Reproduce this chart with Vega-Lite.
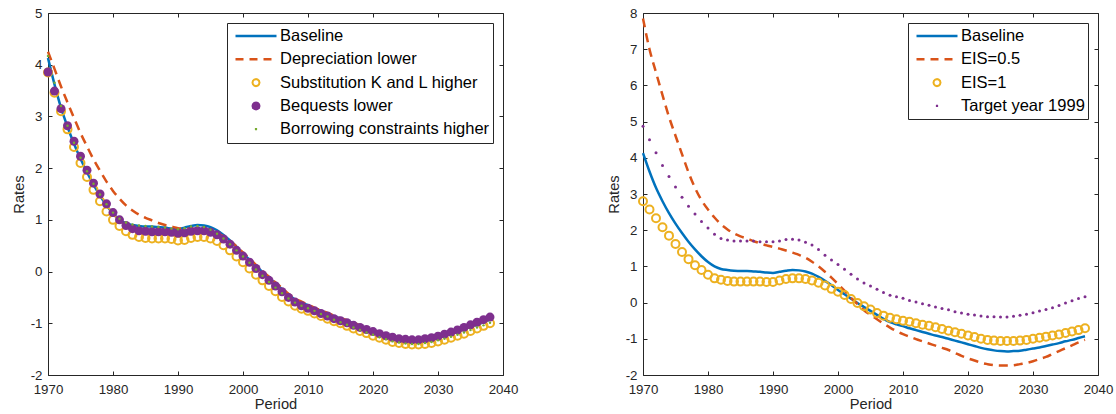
{
"$schema": "https://vega.github.io/schema/vega-lite/v6.json",
"background": "white",
"padding": {"left": 11, "top": 6, "right": 5, "bottom": 0},
"spacing": 88,
"config": {
  "font": "Liberation Sans",
  "view": {"stroke": null},
  "axis": {"domainColor": "#262626", "tickColor": "#262626", "labelColor": "#262626", "titleColor": "#262626", "labelFont": "Liberation Sans", "titleFont": "Liberation Sans", "labelFontSize": 13.3, "titleFontSize": 14.7, "titleFontWeight": "normal", "grid": false, "tickSize": -4, "domainWidth": 1, "tickWidth": 1, "labelFlush": false, "labelOverlap": false},
  "legend": {"title": null, "orient": "top-right", "offset": 10, "padding": 3, "strokeColor": "#262626", "fillColor": "#ffffff", "labelFont": "Liberation Sans", "labelFontSize": 16.5, "labelColor": "#000000", "labelLimit": 400, "symbolSize": 100, "clipHeight": 20, "rowPadding": 3.3, "labelOffset": 15.75, "symbolOffset": 17.75, "symbolOpacity": 1}
},
"resolve": {"scale": {"color": "independent"}, "legend": {"color": "independent"}},
"datasets": {
"base": [{"year":1970,"rate":4.13},{"year":1971,"rate":3.62},{"year":1972,"rate":3.17},{"year":1973,"rate":2.80},{"year":1974,"rate":2.47},{"year":1975,"rate":2.18},{"year":1976,"rate":1.92},{"year":1977,"rate":1.68},{"year":1978,"rate":1.47},{"year":1979,"rate":1.28},{"year":1980,"rate":1.12},{"year":1981,"rate":1.00},{"year":1982,"rate":0.93},{"year":1983,"rate":0.90},{"year":1984,"rate":0.88},{"year":1985,"rate":0.87},{"year":1986,"rate":0.87},{"year":1987,"rate":0.86},{"year":1988,"rate":0.85},{"year":1989,"rate":0.83},{"year":1990,"rate":0.82},{"year":1991,"rate":0.85},{"year":1992,"rate":0.88},{"year":1993,"rate":0.90},{"year":1994,"rate":0.89},{"year":1995,"rate":0.86},{"year":1996,"rate":0.80},{"year":1997,"rate":0.71},{"year":1998,"rate":0.60},{"year":1999,"rate":0.48},{"year":2000,"rate":0.35},{"year":2001,"rate":0.23},{"year":2002,"rate":0.11},{"year":2003,"rate":-0.01},{"year":2004,"rate":-0.12},{"year":2005,"rate":-0.23},{"year":2006,"rate":-0.34},{"year":2007,"rate":-0.45},{"year":2008,"rate":-0.54},{"year":2009,"rate":-0.60},{"year":2010,"rate":-0.65},{"year":2011,"rate":-0.71},{"year":2012,"rate":-0.76},{"year":2013,"rate":-0.81},{"year":2014,"rate":-0.86},{"year":2015,"rate":-0.91},{"year":2016,"rate":-0.95},{"year":2017,"rate":-1.00},{"year":2018,"rate":-1.05},{"year":2019,"rate":-1.10},{"year":2020,"rate":-1.15},{"year":2021,"rate":-1.20},{"year":2022,"rate":-1.25},{"year":2023,"rate":-1.29},{"year":2024,"rate":-1.32},{"year":2025,"rate":-1.34},{"year":2026,"rate":-1.35},{"year":2027,"rate":-1.34},{"year":2028,"rate":-1.33},{"year":2029,"rate":-1.30},{"year":2030,"rate":-1.27},{"year":2031,"rate":-1.24},{"year":2032,"rate":-1.20},{"year":2033,"rate":-1.16},{"year":2034,"rate":-1.12},{"year":2035,"rate":-1.07},{"year":2036,"rate":-1.03},{"year":2037,"rate":-0.98},{"year":2038,"rate":-0.93}],
"dep": [{"year":1970,"rate":4.25},{"year":1971,"rate":3.92},{"year":1972,"rate":3.58},{"year":1973,"rate":3.27},{"year":1974,"rate":2.97},{"year":1975,"rate":2.68},{"year":1976,"rate":2.42},{"year":1977,"rate":2.17},{"year":1978,"rate":1.95},{"year":1979,"rate":1.74},{"year":1980,"rate":1.56},{"year":1981,"rate":1.41},{"year":1982,"rate":1.28},{"year":1983,"rate":1.18},{"year":1984,"rate":1.10},{"year":1985,"rate":1.04},{"year":1986,"rate":0.99},{"year":1987,"rate":0.94},{"year":1988,"rate":0.90},{"year":1989,"rate":0.87},{"year":1990,"rate":0.84},{"year":1991,"rate":0.83},{"year":1992,"rate":0.83},{"year":1993,"rate":0.83},{"year":1994,"rate":0.82},{"year":1995,"rate":0.80},{"year":1996,"rate":0.75},{"year":1997,"rate":0.68},{"year":1998,"rate":0.59},{"year":1999,"rate":0.49},{"year":2000,"rate":0.37},{"year":2001,"rate":0.25},{"year":2002,"rate":0.13},{"year":2003,"rate":0.01},{"year":2004,"rate":-0.10},{"year":2005,"rate":-0.21},{"year":2006,"rate":-0.32},{"year":2007,"rate":-0.43},{"year":2008,"rate":-0.52},{"year":2009,"rate":-0.58},{"year":2010,"rate":-0.64},{"year":2011,"rate":-0.70},{"year":2012,"rate":-0.75},{"year":2013,"rate":-0.80},{"year":2014,"rate":-0.85},{"year":2015,"rate":-0.90},{"year":2016,"rate":-0.94},{"year":2017,"rate":-0.99},{"year":2018,"rate":-1.04},{"year":2019,"rate":-1.09},{"year":2020,"rate":-1.14},{"year":2021,"rate":-1.19},{"year":2022,"rate":-1.24},{"year":2023,"rate":-1.28},{"year":2024,"rate":-1.31},{"year":2025,"rate":-1.33},{"year":2026,"rate":-1.34},{"year":2027,"rate":-1.33},{"year":2028,"rate":-1.32},{"year":2029,"rate":-1.29},{"year":2030,"rate":-1.26},{"year":2031,"rate":-1.23},{"year":2032,"rate":-1.19},{"year":2033,"rate":-1.15},{"year":2034,"rate":-1.11},{"year":2035,"rate":-1.06},{"year":2036,"rate":-1.02},{"year":2037,"rate":-0.97},{"year":2038,"rate":-0.92}],
"sub": [{"year":1970,"rate":3.85},{"year":1971,"rate":3.46},{"year":1972,"rate":3.10},{"year":1973,"rate":2.75},{"year":1974,"rate":2.41},{"year":1975,"rate":2.10},{"year":1976,"rate":1.83},{"year":1977,"rate":1.58},{"year":1978,"rate":1.36},{"year":1979,"rate":1.16},{"year":1980,"rate":1.00},{"year":1981,"rate":0.88},{"year":1982,"rate":0.78},{"year":1983,"rate":0.71},{"year":1984,"rate":0.67},{"year":1985,"rate":0.65},{"year":1986,"rate":0.64},{"year":1987,"rate":0.64},{"year":1988,"rate":0.64},{"year":1989,"rate":0.63},{"year":1990,"rate":0.60},{"year":1991,"rate":0.61},{"year":1992,"rate":0.65},{"year":1993,"rate":0.67},{"year":1994,"rate":0.67},{"year":1995,"rate":0.64},{"year":1996,"rate":0.59},{"year":1997,"rate":0.51},{"year":1998,"rate":0.41},{"year":1999,"rate":0.29},{"year":2000,"rate":0.18},{"year":2001,"rate":0.06},{"year":2002,"rate":-0.06},{"year":2003,"rate":-0.17},{"year":2004,"rate":-0.28},{"year":2005,"rate":-0.38},{"year":2006,"rate":-0.49},{"year":2007,"rate":-0.58},{"year":2008,"rate":-0.66},{"year":2009,"rate":-0.72},{"year":2010,"rate":-0.76},{"year":2011,"rate":-0.81},{"year":2012,"rate":-0.86},{"year":2013,"rate":-0.91},{"year":2014,"rate":-0.96},{"year":2015,"rate":-1.00},{"year":2016,"rate":-1.05},{"year":2017,"rate":-1.10},{"year":2018,"rate":-1.15},{"year":2019,"rate":-1.19},{"year":2020,"rate":-1.24},{"year":2021,"rate":-1.28},{"year":2022,"rate":-1.32},{"year":2023,"rate":-1.36},{"year":2024,"rate":-1.38},{"year":2025,"rate":-1.40},{"year":2026,"rate":-1.41},{"year":2027,"rate":-1.41},{"year":2028,"rate":-1.40},{"year":2029,"rate":-1.38},{"year":2030,"rate":-1.35},{"year":2031,"rate":-1.32},{"year":2032,"rate":-1.28},{"year":2033,"rate":-1.24},{"year":2034,"rate":-1.20},{"year":2035,"rate":-1.15},{"year":2036,"rate":-1.10},{"year":2037,"rate":-1.05},{"year":2038,"rate":-1.00}],
"beq": [{"year":1970,"rate":3.86},{"year":1971,"rate":3.49},{"year":1972,"rate":3.15},{"year":1973,"rate":2.82},{"year":1974,"rate":2.52},{"year":1975,"rate":2.23},{"year":1976,"rate":1.96},{"year":1977,"rate":1.71},{"year":1978,"rate":1.50},{"year":1979,"rate":1.31},{"year":1980,"rate":1.14},{"year":1981,"rate":1.00},{"year":1982,"rate":0.89},{"year":1983,"rate":0.83},{"year":1984,"rate":0.79},{"year":1985,"rate":0.78},{"year":1986,"rate":0.77},{"year":1987,"rate":0.77},{"year":1988,"rate":0.77},{"year":1989,"rate":0.76},{"year":1990,"rate":0.74},{"year":1991,"rate":0.75},{"year":1992,"rate":0.78},{"year":1993,"rate":0.79},{"year":1994,"rate":0.79},{"year":1995,"rate":0.76},{"year":1996,"rate":0.71},{"year":1997,"rate":0.63},{"year":1998,"rate":0.53},{"year":1999,"rate":0.41},{"year":2000,"rate":0.30},{"year":2001,"rate":0.18},{"year":2002,"rate":0.06},{"year":2003,"rate":-0.06},{"year":2004,"rate":-0.17},{"year":2005,"rate":-0.28},{"year":2006,"rate":-0.39},{"year":2007,"rate":-0.50},{"year":2008,"rate":-0.59},{"year":2009,"rate":-0.66},{"year":2010,"rate":-0.71},{"year":2011,"rate":-0.76},{"year":2012,"rate":-0.81},{"year":2013,"rate":-0.86},{"year":2014,"rate":-0.91},{"year":2015,"rate":-0.95},{"year":2016,"rate":-0.99},{"year":2017,"rate":-1.04},{"year":2018,"rate":-1.08},{"year":2019,"rate":-1.12},{"year":2020,"rate":-1.16},{"year":2021,"rate":-1.20},{"year":2022,"rate":-1.24},{"year":2023,"rate":-1.27},{"year":2024,"rate":-1.30},{"year":2025,"rate":-1.31},{"year":2026,"rate":-1.32},{"year":2027,"rate":-1.32},{"year":2028,"rate":-1.30},{"year":2029,"rate":-1.28},{"year":2030,"rate":-1.25},{"year":2031,"rate":-1.21},{"year":2032,"rate":-1.17},{"year":2033,"rate":-1.13},{"year":2034,"rate":-1.08},{"year":2035,"rate":-1.03},{"year":2036,"rate":-0.98},{"year":2037,"rate":-0.93},{"year":2038,"rate":-0.88}],
"bor": [{"year":1970,"rate":4.17},{"year":1971,"rate":3.65},{"year":1972,"rate":3.20},{"year":1973,"rate":2.82},{"year":1974,"rate":2.49},{"year":1975,"rate":2.20},{"year":1976,"rate":1.94},{"year":1977,"rate":1.70},{"year":1978,"rate":1.49},{"year":1979,"rate":1.30},{"year":1980,"rate":1.14},{"year":1981,"rate":1.02},{"year":1982,"rate":0.95},{"year":1983,"rate":0.91},{"year":1984,"rate":0.89},{"year":1985,"rate":0.88},{"year":1986,"rate":0.87},{"year":1987,"rate":0.86},{"year":1988,"rate":0.85},{"year":1989,"rate":0.83},{"year":1990,"rate":0.82},{"year":1991,"rate":0.84},{"year":1992,"rate":0.87},{"year":1993,"rate":0.88},{"year":1994,"rate":0.86},{"year":1995,"rate":0.81},{"year":1996,"rate":0.73},{"year":1997,"rate":0.64},{"year":1998,"rate":0.53},{"year":1999,"rate":0.41},{"year":2000,"rate":0.29},{"year":2001,"rate":0.17},{"year":2002,"rate":0.04},{"year":2003,"rate":-0.08},{"year":2004,"rate":-0.20},{"year":2005,"rate":-0.31},{"year":2006,"rate":-0.42},{"year":2007,"rate":-0.52},{"year":2008,"rate":-0.60},{"year":2009,"rate":-0.66},{"year":2010,"rate":-0.71},{"year":2011,"rate":-0.76},{"year":2012,"rate":-0.82},{"year":2013,"rate":-0.87},{"year":2014,"rate":-0.93},{"year":2015,"rate":-0.98},{"year":2016,"rate":-1.03},{"year":2017,"rate":-1.08},{"year":2018,"rate":-1.13},{"year":2019,"rate":-1.18},{"year":2020,"rate":-1.22},{"year":2021,"rate":-1.27},{"year":2022,"rate":-1.31},{"year":2023,"rate":-1.35},{"year":2024,"rate":-1.37},{"year":2025,"rate":-1.39},{"year":2026,"rate":-1.40},{"year":2027,"rate":-1.40},{"year":2028,"rate":-1.38},{"year":2029,"rate":-1.36},{"year":2030,"rate":-1.33},{"year":2031,"rate":-1.30},{"year":2032,"rate":-1.26},{"year":2033,"rate":-1.22},{"year":2034,"rate":-1.18},{"year":2035,"rate":-1.13},{"year":2036,"rate":-1.08},{"year":2037,"rate":-1.04},{"year":2038,"rate":-0.99}],
"eis05": [{"year":1970,"rate":7.85},{"year":1971,"rate":7.00},{"year":1972,"rate":6.36},{"year":1973,"rate":5.73},{"year":1974,"rate":5.13},{"year":1975,"rate":4.61},{"year":1976,"rate":4.10},{"year":1977,"rate":3.60},{"year":1978,"rate":3.17},{"year":1979,"rate":2.83},{"year":1980,"rate":2.57},{"year":1981,"rate":2.35},{"year":1982,"rate":2.16},{"year":1983,"rate":2.02},{"year":1984,"rate":1.91},{"year":1985,"rate":1.83},{"year":1986,"rate":1.77},{"year":1987,"rate":1.70},{"year":1988,"rate":1.64},{"year":1989,"rate":1.58},{"year":1990,"rate":1.54},{"year":1991,"rate":1.49},{"year":1992,"rate":1.44},{"year":1993,"rate":1.38},{"year":1994,"rate":1.32},{"year":1995,"rate":1.24},{"year":1996,"rate":1.13},{"year":1997,"rate":1.00},{"year":1998,"rate":0.85},{"year":1999,"rate":0.69},{"year":2000,"rate":0.51},{"year":2001,"rate":0.33},{"year":2002,"rate":0.13},{"year":2003,"rate":-0.04},{"year":2004,"rate":-0.21},{"year":2005,"rate":-0.34},{"year":2006,"rate":-0.46},{"year":2007,"rate":-0.58},{"year":2008,"rate":-0.69},{"year":2009,"rate":-0.79},{"year":2010,"rate":-0.87},{"year":2011,"rate":-0.94},{"year":2012,"rate":-1.01},{"year":2013,"rate":-1.07},{"year":2014,"rate":-1.13},{"year":2015,"rate":-1.19},{"year":2016,"rate":-1.25},{"year":2017,"rate":-1.31},{"year":2018,"rate":-1.39},{"year":2019,"rate":-1.47},{"year":2020,"rate":-1.54},{"year":2021,"rate":-1.60},{"year":2022,"rate":-1.66},{"year":2023,"rate":-1.70},{"year":2024,"rate":-1.73},{"year":2025,"rate":-1.74},{"year":2026,"rate":-1.74},{"year":2027,"rate":-1.73},{"year":2028,"rate":-1.70},{"year":2029,"rate":-1.67},{"year":2030,"rate":-1.62},{"year":2031,"rate":-1.56},{"year":2032,"rate":-1.50},{"year":2033,"rate":-1.42},{"year":2034,"rate":-1.34},{"year":2035,"rate":-1.26},{"year":2036,"rate":-1.18},{"year":2037,"rate":-1.10},{"year":2038,"rate":-1.03}],
"eis1": [{"year":1970,"rate":2.80},{"year":1971,"rate":2.57},{"year":1972,"rate":2.33},{"year":1973,"rate":2.08},{"year":1974,"rate":1.85},{"year":1975,"rate":1.62},{"year":1976,"rate":1.40},{"year":1977,"rate":1.20},{"year":1978,"rate":1.03},{"year":1979,"rate":0.90},{"year":1980,"rate":0.77},{"year":1981,"rate":0.67},{"year":1982,"rate":0.63},{"year":1983,"rate":0.60},{"year":1984,"rate":0.58},{"year":1985,"rate":0.58},{"year":1986,"rate":0.58},{"year":1987,"rate":0.58},{"year":1988,"rate":0.58},{"year":1989,"rate":0.57},{"year":1990,"rate":0.57},{"year":1991,"rate":0.61},{"year":1992,"rate":0.65},{"year":1993,"rate":0.67},{"year":1994,"rate":0.67},{"year":1995,"rate":0.65},{"year":1996,"rate":0.61},{"year":1997,"rate":0.55},{"year":1998,"rate":0.47},{"year":1999,"rate":0.38},{"year":2000,"rate":0.30},{"year":2001,"rate":0.21},{"year":2002,"rate":0.10},{"year":2003,"rate":-0.01},{"year":2004,"rate":-0.10},{"year":2005,"rate":-0.19},{"year":2006,"rate":-0.29},{"year":2007,"rate":-0.36},{"year":2008,"rate":-0.42},{"year":2009,"rate":-0.46},{"year":2010,"rate":-0.50},{"year":2011,"rate":-0.53},{"year":2012,"rate":-0.57},{"year":2013,"rate":-0.61},{"year":2014,"rate":-0.64},{"year":2015,"rate":-0.68},{"year":2016,"rate":-0.73},{"year":2017,"rate":-0.78},{"year":2018,"rate":-0.82},{"year":2019,"rate":-0.86},{"year":2020,"rate":-0.91},{"year":2021,"rate":-0.95},{"year":2022,"rate":-1.00},{"year":2023,"rate":-1.03},{"year":2024,"rate":-1.05},{"year":2025,"rate":-1.06},{"year":2026,"rate":-1.06},{"year":2027,"rate":-1.06},{"year":2028,"rate":-1.05},{"year":2029,"rate":-1.03},{"year":2030,"rate":-1.00},{"year":2031,"rate":-0.97},{"year":2032,"rate":-0.94},{"year":2033,"rate":-0.91},{"year":2034,"rate":-0.88},{"year":2035,"rate":-0.84},{"year":2036,"rate":-0.80},{"year":2037,"rate":-0.76},{"year":2038,"rate":-0.71}],
"tgt": [{"year":1970,"rate":4.87},{"year":1971,"rate":4.50},{"year":1972,"rate":4.14},{"year":1973,"rate":3.79},{"year":1974,"rate":3.48},{"year":1975,"rate":3.19},{"year":1976,"rate":2.91},{"year":1977,"rate":2.66},{"year":1978,"rate":2.45},{"year":1979,"rate":2.24},{"year":1980,"rate":2.06},{"year":1981,"rate":1.89},{"year":1982,"rate":1.77},{"year":1983,"rate":1.73},{"year":1984,"rate":1.70},{"year":1985,"rate":1.70},{"year":1986,"rate":1.70},{"year":1987,"rate":1.70},{"year":1988,"rate":1.68},{"year":1989,"rate":1.68},{"year":1990,"rate":1.68},{"year":1991,"rate":1.70},{"year":1992,"rate":1.74},{"year":1993,"rate":1.75},{"year":1994,"rate":1.73},{"year":1995,"rate":1.67},{"year":1996,"rate":1.59},{"year":1997,"rate":1.47},{"year":1998,"rate":1.31},{"year":1999,"rate":1.18},{"year":2000,"rate":1.05},{"year":2001,"rate":0.92},{"year":2002,"rate":0.78},{"year":2003,"rate":0.65},{"year":2004,"rate":0.54},{"year":2005,"rate":0.46},{"year":2006,"rate":0.37},{"year":2007,"rate":0.28},{"year":2008,"rate":0.20},{"year":2009,"rate":0.16},{"year":2010,"rate":0.12},{"year":2011,"rate":0.06},{"year":2012,"rate":0.02},{"year":2013,"rate":-0.03},{"year":2014,"rate":-0.07},{"year":2015,"rate":-0.12},{"year":2016,"rate":-0.16},{"year":2017,"rate":-0.20},{"year":2018,"rate":-0.25},{"year":2019,"rate":-0.29},{"year":2020,"rate":-0.32},{"year":2021,"rate":-0.34},{"year":2022,"rate":-0.37},{"year":2023,"rate":-0.39},{"year":2024,"rate":-0.39},{"year":2025,"rate":-0.40},{"year":2026,"rate":-0.40},{"year":2027,"rate":-0.38},{"year":2028,"rate":-0.35},{"year":2029,"rate":-0.32},{"year":2030,"rate":-0.28},{"year":2031,"rate":-0.23},{"year":2032,"rate":-0.19},{"year":2033,"rate":-0.14},{"year":2034,"rate":-0.08},{"year":2035,"rate":-0.01},{"year":2036,"rate":0.05},{"year":2037,"rate":0.11},{"year":2038,"rate":0.16}]
},
"hconcat": [
{
  "width": 455, "height": 362,
  "resolve": {"axis": {"x": "independent", "y": "independent"}},
  "layer": [
    {"data": {"name": "base"}, "mark": {"type": "line", "strokeWidth": 2.5, "interpolate": "monotone"},
     "encoding": {
       "x": {"field": "year", "type": "quantitative", "scale": {"domain": [1970, 2040], "nice": false, "zero": false}, "axis": {"values": [1970,1980,1990,2000,2010,2020,2030,2040], "format": "d", "title": "Period", "labelPadding": 11.5, "titlePadding": 1}},
       "y": {"field": "rate", "type": "quantitative", "scale": {"domain": [-2, 5], "nice": false, "zero": false}, "axis": {"values": [-2,-1,0,1,2,3,4,5], "labelExpr": "'' + datum.value", "title": "Rates", "labelPadding": 10, "titlePadding": 4}},
       "color": {"datum": "Baseline", "type": "nominal",
         "scale": {"domain": ["Baseline", "Depreciation lower", "Substitution K and L higher", "Bequests lower", "Borrowing constraints higher"], "range": ["#0072BD", "#D95319", "#EDB120", "#7E2F8E", "#77AC30"]},
         "legend": {"encode": {"symbols": {"update": {
           "shape": {"signal": "datum.value === 'Baseline' || datum.value === 'Depreciation lower' ? 'M-4.1,0L4.1,0' : datum.value === 'Substitution K and L higher' ? 'M0.7,0L0.606,0.35L0.35,0.606L0,0.7L-0.35,0.606L-0.606,0.35L-0.7,0L-0.606,-0.35L-0.35,-0.606L0,-0.7L0.35,-0.606L0.606,-0.35Z' : datum.value === 'Bequests lower' ? 'M0.9,0L0.779,0.45L0.45,0.779L0,0.9L-0.45,0.779L-0.779,0.45L-0.9,0L-0.779,-0.45L-0.45,-0.779L0,-0.9L0.45,-0.779L0.779,-0.45Z' : 'M-0.22,-0.22L0.22,-0.22L0.22,0.22L-0.22,0.22Z'"},
           "size": {"value": 100},
           "fillOpacity": {"signal": "datum.value === 'Bequests lower' || datum.value === 'Borrowing constraints higher' ? 1 : 0"},
           "strokeOpacity": {"signal": "datum.value === 'Bequests lower' || datum.value === 'Borrowing constraints higher' ? 0 : 1"},
           "strokeWidth": {"signal": "datum.value === 'Substitution K and L higher' ? 2 : 2.5"},
           "strokeDash": {"signal": "datum.value === 'Depreciation lower' ? [8, 6] : [1, 0]"},
           "strokeCap": {"value": "butt"},
           "opacity": {"value": 1}
         }}}}}
     }},
    {"data": {"name": "dep"}, "mark": {"type": "line", "strokeWidth": 2.5, "strokeDash": [9, 6], "interpolate": "monotone"},
     "encoding": {
       "x": {"field": "year", "type": "quantitative", "scale": {"domain": [1970, 2040], "nice": false, "zero": false}, "axis": null},
       "y": {"field": "rate", "type": "quantitative", "scale": {"domain": [-2, 5], "nice": false, "zero": false}, "axis": null},
       "color": {"datum": "Depreciation lower", "type": "nominal"}}},
    {"data": {"name": "sub"}, "mark": {"type": "point", "shape": "circle", "filled": false, "strokeWidth": 2, "size": 64, "opacity": 1},
     "encoding": {
       "x": {"field": "year", "type": "quantitative", "scale": {"domain": [1970, 2040], "nice": false, "zero": false}, "axis": null},
       "y": {"field": "rate", "type": "quantitative", "scale": {"domain": [-2, 5], "nice": false, "zero": false}, "axis": null},
       "color": {"datum": "Substitution K and L higher", "type": "nominal"}}},
    {"data": {"name": "beq"}, "mark": {"type": "point", "shape": "circle", "filled": true, "size": 81, "opacity": 1},
     "encoding": {
       "x": {"field": "year", "type": "quantitative", "scale": {"domain": [1970, 2040], "nice": false, "zero": false}, "axis": null},
       "y": {"field": "rate", "type": "quantitative", "scale": {"domain": [-2, 5], "nice": false, "zero": false}, "axis": null},
       "color": {"datum": "Bequests lower", "type": "nominal"}}},
    {"data": {"name": "bor"}, "mark": {"type": "point", "shape": "circle", "filled": true, "size": 6, "opacity": 1},
     "encoding": {
       "x": {"field": "year", "type": "quantitative", "scale": {"domain": [1970, 2040], "nice": false, "zero": false}, "axis": {"orient": "top", "values": [1970,1980,1990,2000,2010,2020,2030,2040], "labels": false, "title": null}},
       "y": {"field": "rate", "type": "quantitative", "scale": {"domain": [-2, 5], "nice": false, "zero": false}, "axis": {"orient": "right", "values": [-2,-1,0,1,2,3,4,5], "labels": false, "title": null}},
       "color": {"datum": "Borrowing constraints higher", "type": "nominal"}}}
  ]
},
{
  "width": 455, "height": 362,
  "resolve": {"axis": {"x": "independent", "y": "independent"}},
  "layer": [
    {"data": {"name": "base"}, "mark": {"type": "line", "strokeWidth": 2.5, "interpolate": "monotone"},
     "encoding": {
       "x": {"field": "year", "type": "quantitative", "scale": {"domain": [1970, 2040], "nice": false, "zero": false}, "axis": {"values": [1970,1980,1990,2000,2010,2020,2030,2040], "format": "d", "title": "Period", "labelPadding": 11.5, "titlePadding": 1}},
       "y": {"field": "rate", "type": "quantitative", "scale": {"domain": [-2, 8], "nice": false, "zero": false}, "axis": {"values": [-2,-1,0,1,2,3,4,5,6,7,8], "labelExpr": "'' + datum.value", "title": "Rates", "labelPadding": 10, "titlePadding": 4}},
       "color": {"datum": "Baseline", "type": "nominal",
         "scale": {"domain": ["Baseline", "EIS=0.5", "EIS=1", "Target year 1999"], "range": ["#0072BD", "#D95319", "#EDB120", "#7E2F8E"]},
         "legend": {"encode": {"symbols": {"update": {
           "shape": {"signal": "datum.value === 'Baseline' || datum.value === 'EIS=0.5' ? 'M-4.1,0L4.1,0' : datum.value === 'EIS=1' ? 'M0.7,0L0.606,0.35L0.35,0.606L0,0.7L-0.35,0.606L-0.606,0.35L-0.7,0L-0.606,-0.35L-0.35,-0.606L0,-0.7L0.35,-0.606L0.606,-0.35Z' : 'M-0.22,-0.22L0.22,-0.22L0.22,0.22L-0.22,0.22Z'"},
           "size": {"value": 100},
           "fillOpacity": {"signal": "datum.value === 'Target year 1999' ? 1 : 0"},
           "strokeOpacity": {"signal": "datum.value === 'Target year 1999' ? 0 : 1"},
           "strokeWidth": {"signal": "datum.value === 'EIS=1' ? 2 : 2.5"},
           "strokeDash": {"signal": "datum.value === 'EIS=0.5' ? [8, 6] : [1, 0]"},
           "strokeCap": {"value": "butt"},
           "opacity": {"value": 1}
         }}}}}
     }},
    {"data": {"name": "eis05"}, "mark": {"type": "line", "strokeWidth": 2.5, "strokeDash": [9, 6], "interpolate": "monotone"},
     "encoding": {
       "x": {"field": "year", "type": "quantitative", "scale": {"domain": [1970, 2040], "nice": false, "zero": false}, "axis": null},
       "y": {"field": "rate", "type": "quantitative", "scale": {"domain": [-2, 8], "nice": false, "zero": false}, "axis": null},
       "color": {"datum": "EIS=0.5", "type": "nominal"}}},
    {"data": {"name": "eis1"}, "mark": {"type": "point", "shape": "circle", "filled": false, "strokeWidth": 2, "size": 64, "opacity": 1},
     "encoding": {
       "x": {"field": "year", "type": "quantitative", "scale": {"domain": [1970, 2040], "nice": false, "zero": false}, "axis": null},
       "y": {"field": "rate", "type": "quantitative", "scale": {"domain": [-2, 8], "nice": false, "zero": false}, "axis": null},
       "color": {"datum": "EIS=1", "type": "nominal"}}},
    {"data": {"name": "tgt"}, "mark": {"type": "point", "shape": "circle", "filled": true, "size": 9, "opacity": 1},
     "encoding": {
       "x": {"field": "year", "type": "quantitative", "scale": {"domain": [1970, 2040], "nice": false, "zero": false}, "axis": {"orient": "top", "values": [1970,1980,1990,2000,2010,2020,2030,2040], "labels": false, "title": null}},
       "y": {"field": "rate", "type": "quantitative", "scale": {"domain": [-2, 8], "nice": false, "zero": false}, "axis": {"orient": "right", "values": [-2,-1,0,1,2,3,4,5,6,7,8], "labels": false, "title": null}},
       "color": {"datum": "Target year 1999", "type": "nominal"}}}
  ]
}
]
}
